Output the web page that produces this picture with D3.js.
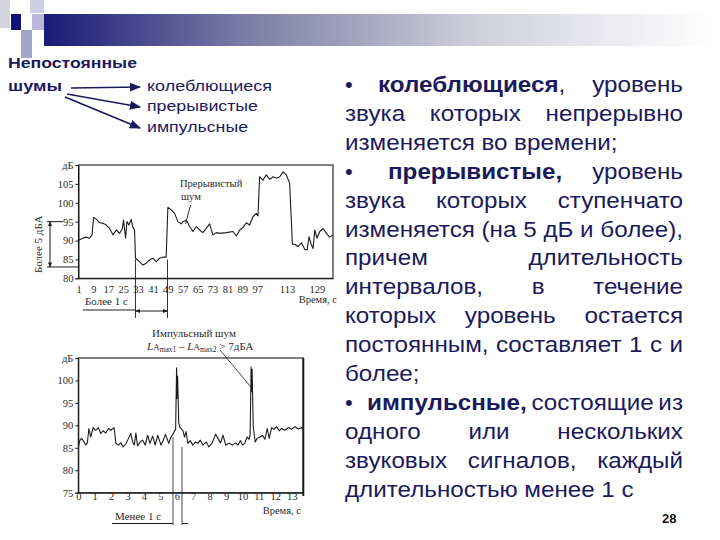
<!DOCTYPE html>
<html><head><meta charset="utf-8">
<script src="https://cdn.jsdelivr.net/npm/d3@7"></script>
<style>body{margin:0;background:#fff}svg{display:block}</style>
</head><body>
<svg id="c" width="720" height="540"></svg>
<script>
// ---------- DATA ----------
const noiseTypes = ["колеблющиеся", "прерывистые", "импульсные"];

// Intermittent noise (top chart): time, s / level, dB
const topTime = [1,3.3,5.1,6.9,8.3,9.1,10.5,12.3,14.1,15.9,17.7,19.5,21.3,23.0,24.5,25.2,26.3,27.0,28.1,29.3,30.2,31.1,31.6,33.8,35.6,37.4,39.2,41.0,42.8,44.5,46.3,48.1,49.0,50.8,52.6,54.4,56.2,57.1,58.9,60.7,62.5,64.3,66.1,67.8,69.6,71.4,73.2,75.0,76.8,80.4,84.0,85.8,87.6,89.4,91.1,92.9,94.7,96.5,97.4,98.3,100.1,101.9,103.7,105.5,107.3,109.1,110.9,112.6,114.4,115.9,117.1,118.9,120.7,122.5,123.8,124.8,126.1,127.0,127.9,129.1,130.6,132.4,134.2,135.9,137.7];
const topLevel = [90.1,90.6,90.9,90.6,91.5,96.1,95.7,94.7,94.6,94.1,93.2,91.5,92.8,91.9,93.0,95.4,90.6,95.0,94.1,95.6,93.5,92.8,85.3,84.4,83.5,84.0,84.9,85.3,84.4,85.3,85.6,85.6,98.8,98.1,97.2,95.0,94.4,95.0,95.4,93.7,92.4,93.7,92.8,92.1,93.2,94.4,91.5,92.1,91.9,92.1,92.4,91.2,92.8,93.5,94.7,94.1,96.3,97.2,96.5,106.9,106.0,107.4,106.2,106.9,106.5,106.9,108.2,107.4,105.2,89.0,89.0,88.4,89.4,87.7,87.5,91.0,88.8,87.9,92.8,90.6,92.4,93.2,91.9,90.9,91.5];
const topTicksX = [1,9,17,25,33,41,49,57,65,73,81,89,97,113,129];
const topTicksY = [80,85,90,95,100,105,110];
const topSteps = [31.6, 48.8];      // "Более 1 с" interval
const topBracket = [95, 83];         // "Более 5 дБА"

// Impulse noise (bottom chart)
const impTime = [0,0.10,0.20,0.35,0.45,0.55,0.65,0.76,0.90,1.06,1.22,1.37,1.51,1.67,1.84,1.98,2.18,2.29,2.45,2.59,2.73,2.90,3.06,3.20,3.31,3.41,3.51,3.61,3.76,3.92,4.08,4.22,4.37,4.53,4.69,4.84,5.04,5.18,5.31,5.51,5.65,5.80,5.88,5.93,5.99,6.02,6.05,6.12,6.20,6.37,6.47,6.57,6.67,6.82,6.98,7.14,7.29,7.43,7.59,7.80,7.96,8.16,8.37,8.51,8.67,8.82,8.98,9.18,9.39,9.59,9.73,9.88,10.00,10.14,10.29,10.41,10.47,10.53,10.56,10.59,10.66,10.78,10.90,11.06,11.22,11.37,11.51,11.63,11.78,11.92,12.08,12.24,12.39,12.59,12.80,13.00,13.20,13.41,13.61,13.71];
const impLevel = [85.2,86.7,87.1,86.3,85.6,86.1,89.3,87.4,89.5,88.9,89.5,88.2,88.8,88.3,89.3,88.9,89.5,86.0,85.6,86.1,85.2,85.9,87.1,88.2,86.3,85.6,88.3,85.4,86.3,86.7,85.6,87.8,86.0,87.6,85.6,87.8,85.6,86.7,88.0,86.0,87.4,88.2,88.9,89.0,102.8,96.0,101.0,90.5,89.5,88.9,87.4,88.6,86.0,86.6,85.6,86.3,86.0,86.7,85.6,86.3,85.2,86.1,88.0,87.1,86.1,87.8,85.6,86.0,85.6,86.1,85.6,86.6,85.6,86.0,87.4,86.9,88.0,103.0,97.5,102.5,89.7,86.3,87.1,87.4,87.8,86.9,89.3,87.1,89.5,89.1,89.7,88.8,89.3,88.9,89.5,89.1,89.7,89.2,89.5,88.9];
const impTicksX = [0,1,2,3,4,5,6,7,8,9,10,11,12,13];
const impTicksY = [75,80,85,90,95,100,105];
const impMarks = [5.77, 6.32];
const impMarkFrom = [87.4, 85.2];

// Slide text
const bodyLines = [
  ["•","*колеблющиеся*,","уровень"],
  ["звука","которых","непрерывно"],
  ["изменяется","во","времени;"],
  ["•","*прерывистые,*","уровень"],
  ["звука","которых","ступенчато"],
  ["изменяется","(на","5","дБ","и","более),"],
  ["причем","длительность"],
  ["интервалов,","в","течение"],
  ["которых","уровень","остается"],
  ["постоянным,","составляет","1","с","и"],
  ["более;"],
  ["•","*импульсные,*","состоящие","из"],
  ["одного","или","нескольких"],
  ["звуковых","сигналов,","каждый"],
  ["длительностью","менее","1","с"]
];
const lastLines = [2, 10, 14];
const pageNumber = "28";

// ---------- DRAW ----------
const svg = d3.select("#c");
const NAVY = "#1a1a5c", INK = "#1b1b1b", TXT = "#2a2a2a";
const defs = svg.append("defs");
const grad = defs.append("linearGradient").attr("id","bar");
[[0,"#1a1a78"],[0.3,"#7c7ca6"],[0.65,"#d0d0dc"],[1,"#ffffff"]].forEach(([o,c]) =>
  grad.append("stop").attr("offset",o).attr("stop-color",c));
function marker(id, color, size) {
  defs.append("marker").attr("id",id).attr("viewBox","0 0 10 10").attr("refX",9).attr("refY",5)
    .attr("markerWidth",size).attr("markerHeight",size).attr("orient","auto-start-reverse")
    .append("path").attr("d","M0,1L10,5L0,9z").attr("fill",color);
}
marker("an", NAVY, 7);
marker("ak", INK, 5);

// header decoration
svg.append("rect").attr("x",0).attr("y",0).attr("width",10).attr("height",28).attr("fill","#d4d4de");
svg.append("rect").attr("x",30).attr("y",0).attr("width",14).attr("height",13).attr("fill","#cfcfe4");
svg.append("rect").attr("x",32).attr("y",14).attr("width",12).attr("height",16).attr("fill","#b8b8d8");
svg.append("rect").attr("x",11).attr("y",14).attr("width",10).attr("height",16).attr("fill","#12127a");
svg.append("rect").attr("x",21).attr("y",30).attr("width",11).attr("height",28).attr("fill","#a4a4c8");
svg.append("rect").attr("x",44).attr("y",14).attr("width",670).attr("height",32).attr("fill","url(#bar)");

// classification header
const hf = "Liberation Sans, Arial, sans-serif";
svg.append("text").attr("x",8).attr("y",68).attr("font-family",hf).attr("font-size",14).attr("font-weight","bold")
  .attr("fill",NAVY).attr("textLength",129).attr("lengthAdjust","spacingAndGlyphs").text("Непостоянные");
svg.append("text").attr("x",8).attr("y",91).attr("font-family",hf).attr("font-size",14).attr("font-weight","bold")
  .attr("fill",NAVY).attr("textLength",54).attr("lengthAdjust","spacingAndGlyphs").text("шумы");
const typeY = [91, 111, 132], typeW = [125, 111, 101];
const arrowFrom = [[71,88],[67,94],[65,97]];
noiseTypes.forEach((t,i) => {
  svg.append("text").attr("x",147).attr("y",typeY[i]).attr("font-family",hf).attr("font-size",15)
    .attr("fill",NAVY).attr("textLength",typeW[i]).attr("lengthAdjust","spacingAndGlyphs").text(t);
  svg.append("line").attr("x1",arrowFrom[i][0]).attr("y1",arrowFrom[i][1])
    .attr("x2",140).attr("y2",typeY[i]-4).attr("stroke",NAVY).attr("stroke-width",1.6)
    .attr("marker-end","url(#an)");
});

// body text, justified
const FS = 22, WIDEN = 1.1;
const body = svg.append("g").attr("font-family",hf).attr("font-size",FS).attr("fill",NAVY);
const L = 345, R = 683, bulletStart = {0:378, 3:388, 11:367};
bodyLines.forEach((words, i) => {
  const y = 92 + i*28.9;
  let ws = words, left = L;
  if (words[0] === "•") {
    body.append("text").attr("x",L).attr("y",y).text("•");
    ws = words.slice(1); left = bulletStart[i];
  }
  const nodes = ws.map(w => {
    const t = body.append("text").attr("y",y);
    w.split(/(\*[^*]+\*)/).filter(s => s).forEach(s => {
      const b = s.startsWith("*");
      t.append("tspan").attr("font-weight", b ? "bold" : "normal").text(b ? s.slice(1,-1) : s);
    });
    return t;
  });
  const widths = nodes.map(n => {
    const w = n.node().getComputedTextLength() * WIDEN;
    n.attr("textLength", w).attr("lengthAdjust","spacingAndGlyphs");
    return w;
  });
  const total = d3.sum(widths);
  const gap = (!lastLines.includes(i) && nodes.length > 1) ? (R - left - total)/(nodes.length - 1) : FS*0.3;
  let x = left;
  nodes.forEach((n,k) => { n.attr("x", x); x += widths[k] + gap; });
});
svg.append("text").attr("x",662).attr("y",523).attr("font-family",hf).attr("font-size",13)
  .attr("font-weight","bold").attr("fill","#111").text(pageNumber);

// ---------- charts ----------
const sf = "Liberation Serif, Times New Roman, serif";
function chart(cfg) {
  const g = svg.append("g").attr("font-family",sf);
  const {x, y} = cfg;
  g.append("rect").attr("x",x.range()[0]).attr("y",y.range()[1])
    .attr("width",x.range()[1]-x.range()[0]).attr("height",y.range()[0]-y.range()[1])
    .attr("fill","none").attr("stroke",INK).attr("stroke-width",1.1);
  const ya = g.append("g").attr("transform",`translate(${x.range()[0]},0)`)
    .call(d3.axisLeft(y).tickValues(cfg.ticksY).tickSize(3).tickPadding(2)
      .tickFormat(d => d === cfg.ticksY[cfg.ticksY.length-1] ? "дБ" : d));
  const xa = g.append("g").attr("transform",`translate(0,${y.range()[0]})`)
    .call(d3.axisBottom(x).tickValues(cfg.ticksX).tickSize(0).tickPadding(cfg.xpad));
  [ya, xa].forEach(a => {
    a.select(".domain").attr("stroke",INK);
    a.selectAll("line").attr("stroke",INK);
    a.selectAll("text").attr("font-size",10.5).attr("fill",TXT).attr("font-family",sf);
  });
  g.append("path").datum(cfg.t.map((t,i) => [t, cfg.v[i]]))
    .attr("d", d3.line().x(d => x(d[0])).y(d => y(d[1])))
    .attr("fill","none").attr("stroke",INK).attr("stroke-width",1.1).attr("stroke-linejoin","round");
  return g;
}

const xTop = d3.scaleLinear().domain([1,137.7]).range([78.5,333]);
const yTop = d3.scaleLinear().domain([80,110]).range([278.3,165]);
const gTop = chart({x:xTop, y:yTop, t:topTime, v:topLevel, ticksX:topTicksX, ticksY:topTicksY, xpad:7});
// bracket "Более 5 дБА"
gTop.append("line").attr("x1",47).attr("x2",63).attr("y1",yTop(topBracket[0])).attr("y2",yTop(topBracket[0])).attr("stroke",INK);
gTop.append("line").attr("x1",47).attr("x2",78).attr("y1",yTop(topBracket[1])).attr("y2",yTop(topBracket[1])).attr("stroke",INK);
gTop.append("line").attr("x1",50).attr("x2",50).attr("y1",yTop(topBracket[0])).attr("y2",yTop(topBracket[1]))
  .attr("stroke",INK).attr("marker-start","url(#ak)").attr("marker-end","url(#ak)");
gTop.append("text").attr("transform",`translate(42,${(yTop(topBracket[0])+yTop(topBracket[1]))/2}) rotate(-90)`)
  .attr("text-anchor","middle").attr("font-size",11).attr("fill",TXT).text("Более 5 дБА");
// "Более 1 с"
topSteps.forEach(t => gTop.append("line").attr("x1",xTop(t)).attr("x2",xTop(t))
  .attr("y1",yTop(85)).attr("y2",318).attr("stroke",INK).attr("stroke-width",0.9));
gTop.append("line").attr("x1",xTop(topSteps[0])).attr("x2",xTop(topSteps[1])).attr("y1",311).attr("y2",311)
  .attr("stroke",INK).attr("marker-start","url(#ak)").attr("marker-end","url(#ak)");
gTop.append("line").attr("x1",83).attr("x2",xTop(topSteps[0])).attr("y1",310).attr("y2",310).attr("stroke",INK);
gTop.append("text").attr("x",85).attr("y",305).attr("font-size",11).attr("fill",TXT).text("Более 1 с");
gTop.append("text").attr("x",337).attr("y",303).attr("text-anchor","end").attr("font-size",10.5).attr("fill",TXT).text("Время, с");
gTop.append("text").attr("x",180).attr("y",187).attr("font-size",10.5).attr("fill",TXT).text("Прерывистый");
gTop.append("text").attr("x",181).attr("y",200).attr("font-size",10.5).attr("fill",TXT).text("шум");
gTop.append("line").attr("x1",xTop(61.2)).attr("y1",yTop(99.4)).attr("x2",xTop(58.5)).attr("y2",yTop(94.4))
  .attr("stroke",INK).attr("stroke-width",0.9);

const xImp = d3.scaleLinear().domain([0,13.71]).range([78.3,303.3]);
const yImp = d3.scaleLinear().domain([75,105]).range([492.7,358]);
const gImp = chart({x:xImp, y:yImp, t:impTime, v:impLevel, ticksX:impTicksX, ticksY:impTicksY, xpad:0});
gImp.append("line").attr("x1",303.3).attr("x2",303.3).attr("y1",358).attr("y2",496).attr("stroke",INK).attr("stroke-width",2);
impMarks.forEach((t,i) => gImp.append("line").attr("x1",xImp(t)).attr("x2",xImp(t))
  .attr("y1",yImp(impMarkFrom[i])).attr("y2",525).attr("stroke",INK).attr("stroke-width",0.8));
gImp.append("line").attr("x1",112).attr("x2",xImp(impMarks[0])).attr("y1",523.5).attr("y2",523.5).attr("stroke",INK);
gImp.append("line").attr("x1",xImp(impMarks[1])).attr("x2",xImp(impMarks[1])+6).attr("y1",523.5).attr("y2",523.5).attr("stroke",INK);
gImp.append("text").attr("x",115).attr("y",520).attr("font-size",11).attr("fill",TXT).text("Менее 1 с");
gImp.append("text").attr("x",301).attr("y",514).attr("text-anchor","end").attr("font-size",10.5).attr("fill",TXT).text("Время, с");
gImp.append("text").attr("x",152).attr("y",337).attr("font-size",11).attr("fill",TXT).text("Импульсный шум");
const f = gImp.append("text").attr("x",147).attr("y",350).attr("font-size",11).attr("fill",TXT);
f.append("tspan").attr("font-style","italic").text("L");
f.append("tspan").attr("font-size",9).text("A");
f.append("tspan").attr("font-size",7.5).attr("dy",2).text("max1");
f.append("tspan").attr("dy",-2).text(" – ");
f.append("tspan").attr("font-style","italic").text("L");
f.append("tspan").attr("font-size",9).text("A");
f.append("tspan").attr("font-size",7.5).attr("dy",2).text("max2");
f.append("tspan").attr("dy",-2).text(" > 7дБА");
gImp.append("line").attr("x1",xImp(8.63)).attr("y1",yImp(106.8)).attr("x2",xImp(10.57)).attr("y2",yImp(98.3))
  .attr("stroke",INK).attr("stroke-width",0.8);
</script>
</body></html>
